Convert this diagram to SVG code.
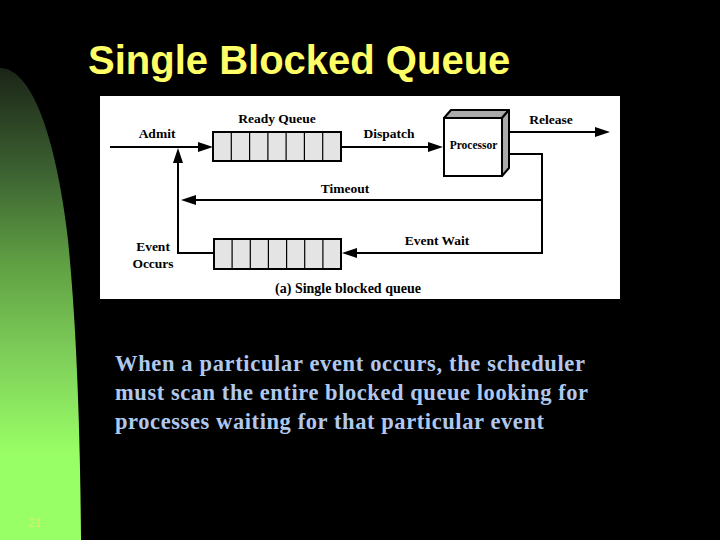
<svg xmlns="http://www.w3.org/2000/svg" width="720" height="540" viewBox="0 0 720 540">
  <defs>
    <linearGradient id="green" x1="0" y1="70" x2="0" y2="455" gradientUnits="userSpaceOnUse">
      <stop offset="0" stop-color="#1c2618"/>
      <stop offset="0.25" stop-color="#3a5e30"/>
      <stop offset="0.5" stop-color="#5f9f43"/>
      <stop offset="0.75" stop-color="#7fd05a"/>
      <stop offset="1" stop-color="#99ff66"/>
    </linearGradient>
    <marker id="arrow" markerUnits="userSpaceOnUse" markerWidth="16" markerHeight="10" refX="12" refY="5" orient="auto">
      <path d="M0,0 L15,5 L0,10 Z" fill="#000"/>
    </marker>
    <style>
      .lbl { font-family: "Liberation Serif", "Times New Roman", serif; font-weight: bold; font-size: 13.5px; fill: #000; text-anchor: middle; }
      .conn { fill: none; stroke: #000; stroke-width: 2; }
      .q { fill: #e4e4e4; stroke: #000; stroke-width: 2; }
      .div { stroke: #000; stroke-width: 1.2; }
      .body { font-family: "Liberation Serif", "Times New Roman", serif; font-weight: bold; font-size: 22.5px; fill: #b0c8ee; }
    </style>
  </defs>

  <rect x="0" y="0" width="720" height="540" fill="#000"/>
  <path d="M0,68 C30,68 55,130 68,240 C76,320 80,420 81,540 L0,540 Z" fill="url(#green)"/>

  <text x="88" y="74" font-family="Liberation Sans, Arial, sans-serif" font-weight="bold" font-size="40" fill="#ffff66">Single Blocked Queue</text>

  <rect x="100" y="96" width="520" height="203" fill="#fff"/>

  <g id="connectors">
    <path class="conn" d="M110,147 H210" marker-end="url(#arrow)"/>
    <path class="conn" d="M214,253 H178 V151" marker-end="url(#arrow)"/>
    <path class="conn" d="M341,147 H440" marker-end="url(#arrow)"/>
    <path class="conn" d="M509,132 H607" marker-end="url(#arrow)"/>
    <path class="conn" d="M509,154 H542 V253 H345" marker-end="url(#arrow)"/>
    <path class="conn" d="M542,200 H184" marker-end="url(#arrow)"/>
  </g>

  <g id="ready-queue">
    <rect class="q" x="213" y="132" width="128" height="29"/>
    <path class="div" d="M231.3,132 V161 M249.6,132 V161 M267.9,132 V161 M286.1,132 V161 M304.4,132 V161 M322.7,132 V161"/>
    <text class="lbl" x="277" y="123">Ready Queue</text>
  </g>

  <g id="blocked-queue">
    <rect class="q" x="214" y="239" width="127" height="30"/>
    <path class="div" d="M232.1,239 V269 M250.3,239 V269 M268.4,239 V269 M286.6,239 V269 M304.7,239 V269 M322.9,239 V269"/>
  </g>

  <g id="processor">
    <polygon points="444,118 451,110 509,110 502,118" fill="#aaa" stroke="#000" stroke-width="2" stroke-linejoin="round"/>
    <polygon points="502,118 509,110 509,168 502,176" fill="#aaa" stroke="#000" stroke-width="2" stroke-linejoin="round"/>
    <rect x="444" y="118" width="58" height="58" fill="#fff" stroke="#000" stroke-width="2"/>
    <text class="lbl" x="473.5" y="148.5" style="font-size:11.5px">Processor</text>
  </g>

  <g id="labels">
    <text class="lbl" x="157" y="138">Admit</text>
    <text class="lbl" x="389" y="138">Dispatch</text>
    <text class="lbl" x="551" y="124">Release</text>
    <text class="lbl" x="345" y="193">Timeout</text>
    <text class="lbl" x="437" y="245">Event Wait</text>
    <text class="lbl" x="153" y="251">Event</text>
    <text class="lbl" x="153" y="268">Occurs</text>
    <text class="lbl" x="348" y="293" style="font-size:14px">(a) Single blocked queue</text>
  </g>

  <text class="body" x="115" y="371" textLength="470" lengthAdjust="spacing">When a particular event occurs, the scheduler</text>
  <text class="body" x="115" y="400" textLength="473" lengthAdjust="spacing">must scan the entire blocked queue looking for</text>
  <text class="body" x="115" y="429" textLength="429" lengthAdjust="spacing">processes waiting for that particular event</text>

  <text x="28" y="527" font-family="Liberation Sans, Arial, sans-serif" font-size="12" fill="#d4f070">21</text>
</svg>
